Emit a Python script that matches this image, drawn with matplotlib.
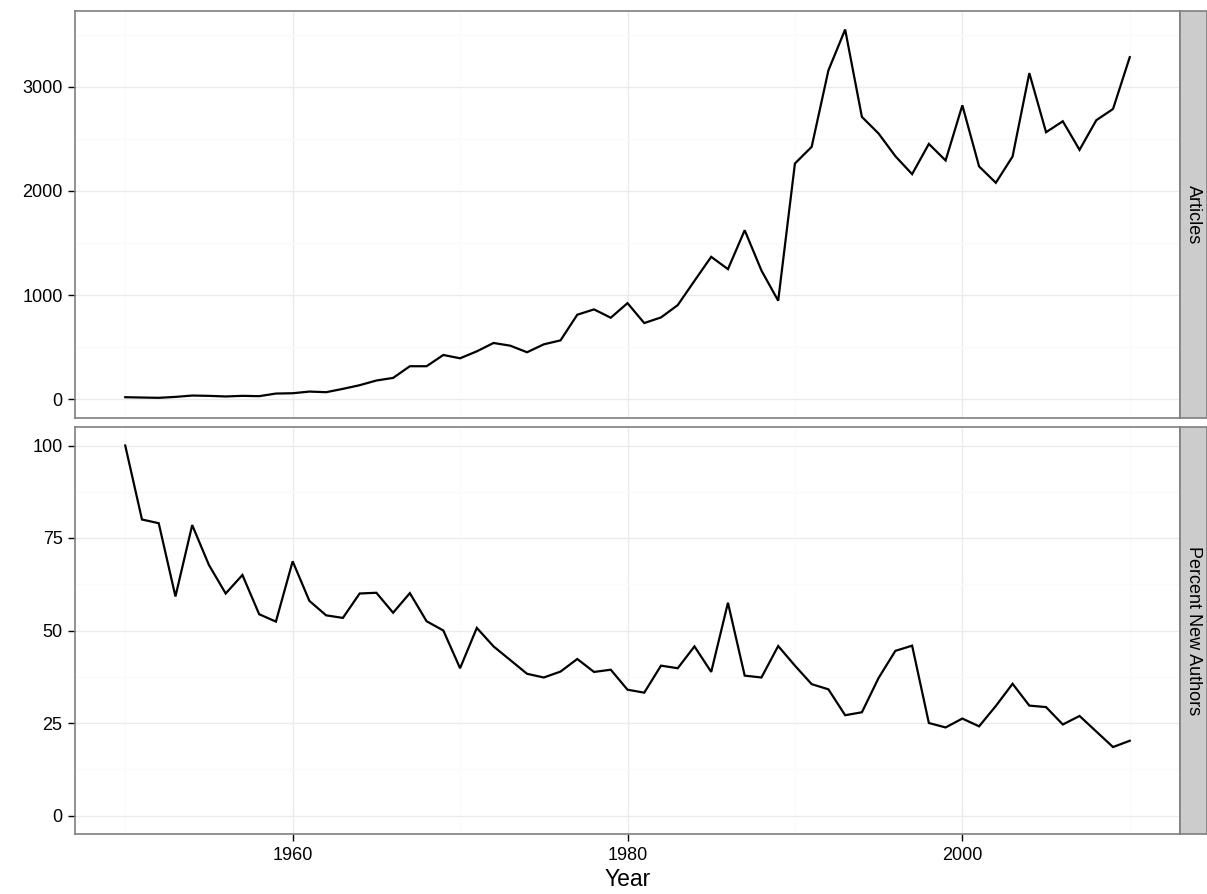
import matplotlib
matplotlib.use("Agg")
import matplotlib.pyplot as plt
from matplotlib.ticker import FixedLocator

plt.rcParams['font.family'] = ['Liberation Sans', 'DejaVu Sans']

years = list(range(1950, 2011))

articles = [22, 19, 16, 25, 38, 35, 29, 35, 32, 57,
            60, 76, 70, 102, 137, 182, 207, 319, 319, 427,
            395, 462, 542, 516, 453, 529, 567, 813, 864, 784,
            924, 733, 787, 905, 1138, 1368, 1250, 1623, 1237, 947,
            2263, 2423, 3156, 3548, 2710, 2550, 2333, 2161, 2451, 2292,
            2821, 2235, 2078, 2330, 3130, 2563, 2668, 2394, 2678, 2786,
            3283]

pct_new = [100.0, 80.0, 79.0, 59.2, 78.5, 67.7, 60.0, 65.0, 54.4, 52.4,
           68.7, 58.0, 54.1, 53.4, 60.0, 60.2, 54.8, 60.1, 52.5, 50.0,
           39.8, 50.7, 45.7, 42.0, 38.3, 37.3, 38.9, 42.3, 38.8, 39.4,
           34.0, 33.2, 40.5, 39.8, 45.7, 38.8, 57.5, 37.8, 37.3, 45.8,
           40.5, 35.5, 34.1, 27.1, 27.9, 37.2, 44.5, 45.9, 25.0, 23.8,
           26.2, 24.1, 29.6, 35.6, 29.7, 29.3, 24.6, 26.9, 22.7, 18.5,
           20.2]

panels = ["Articles", "Percent New Authors"]
y_major = [[0, 1000, 2000, 3000], [0, 25, 50, 75, 100]]
y_minor = [[500, 1500, 2500, 3500], [12.5, 37.5, 62.5, 87.5]]
x_major = [1960, 1980, 2000]
x_minor = [1950, 1970, 1990, 2010]
series = [articles, pct_new]

W, H = 1207, 894
fig = plt.figure(figsize=(W / 100, H / 100), dpi=100)

px_left, px_right = 75, 1180
strip_right = 1207
panel_px = [(11, 418), (427, 834)]

grey50 = '#7F7F7F'
for i, (top, bot) in enumerate(panel_px):
    ax = fig.add_axes([px_left / W, (H - bot) / H, (px_right - px_left) / W, (bot - top) / H])
    ax.plot(years, series[i], color='black', lw=1.6, solid_joinstyle='miter', zorder=3)
    ax.set_xlim(1947, 2013)
    vals = series[i]
    lo, hi = min(min(vals), 0), max(vals)
    pad = (hi - lo) * 0.05
    ax.set_ylim(lo - pad, hi + pad)
    ax.yaxis.set_major_locator(FixedLocator(y_major[i]))
    ax.yaxis.set_minor_locator(FixedLocator(y_minor[i]))
    ax.xaxis.set_major_locator(FixedLocator(x_major))
    ax.xaxis.set_minor_locator(FixedLocator(x_minor))
    ax.grid(which='major', color='#EBEBEB', lw=1.0, zorder=0)
    ax.grid(which='minor', color='#FAFAFA', lw=1.0, zorder=0)
    ax.set_axisbelow(True)
    for s in ax.spines.values():
        s.set_color(grey50)
        s.set_linewidth(1.2)
    ax.tick_params(which='major', length=5, width=1.0, color='black',
                   labelsize=13, labelcolor='black', pad=4)
    ax.tick_params(which='minor', length=0)
    ax.set_yticklabels([str(v) for v in y_major[i]])
    if i == 0:
        ax.tick_params(axis='x', which='both', bottom=False, labelbottom=False)
    else:
        ax.set_xticklabels([str(v) for v in x_major])
        ax.set_xlabel("Year", fontsize=16.5, labelpad=3)

    sax = fig.add_axes([px_right / W, (H - bot) / H, (strip_right - px_right) / W, (bot - top) / H])
    sax.set_facecolor('#CCCCCC')
    sax.set_xticks([])
    sax.set_yticks([])
    for s in sax.spines.values():
        s.set_color(grey50)
        s.set_linewidth(1.2)
    sax.text(0.5, 0.5, panels[i], rotation=-90, ha='center', va='center',
             fontsize=13, color='black', transform=sax.transAxes)

fig.savefig("out.png", dpi=100)
